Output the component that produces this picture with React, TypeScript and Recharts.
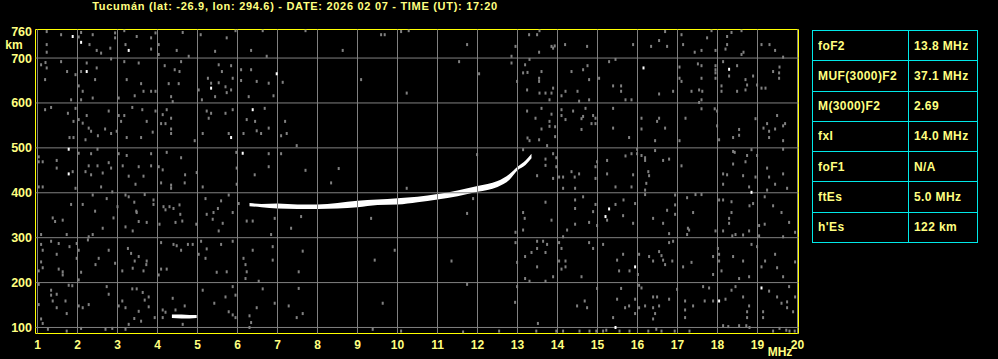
import { ComposedChart, XAxis, YAxis, Scatter, Area, ReferenceLine, ReferenceArea } from 'recharts';

const title = 'Tucumán (lat: -26.9, lon: 294.6) - DATE: 2026 02 07 - TIME (UT): 17:20';

const freqTicks = [1, 2, 3, 4, 5, 6, 7, 8, 9, 10, 11, 12, 13, 14, 15, 16, 17, 18, 19, 20];
const heightTicks = [100, 200, 300, 400, 500, 600, 700, 760];
const heightGrid = [100, 200, 300, 400, 500, 600, 700];

// F2 trace (low / high virtual height)
const f2Freq = [6.3, 6.6, 7.0, 7.5, 8.0, 8.5, 9.0, 9.5, 10.0, 10.5, 11.0, 11.5, 12.0, 12.5, 12.8, 13.0, 13.2, 13.35];
const f2Low = [370, 368, 365, 364, 364, 365, 368, 373, 374, 379, 385, 392, 402, 413, 429, 450, 462, 477];
const f2High = [377, 375, 376, 374, 374, 377, 382, 385, 388, 391, 397, 405, 415, 426, 442, 458, 472, 487];

// sporadic E trace
const esFreq = [4.36, 4.6, 4.8, 4.98];
const esLow = [121, 120, 120, 121];
const esHigh = [129, 129, 128, 128];

// bright isolated echoes
const whiteDots = [
  [1.88, 748], [2.09, 735], [3.28, 717], [2.23, 670], [5.34, 633], [6.98, 665], [5.84, 523], [6.38, 585],
  [1.78, 497], [1.78, 442], [6.13, 488], [16.15, 678], [18.29, 675], [18.85, 401], [15.29, 364], [15.2, 347],
  [15.94, 235], [18.04, 159], [19.1, 188], [15.45, 100],
];

// background noise
const greyDots = [
  [1.23, 759], [1.23, 730], [1.23, 713], [1.59, 752], [2.03, 747], [2.09, 757], [2.3, 730], [2.38, 752],
  [2.48, 717], [2.59, 711], [2.94, 756], [2.94, 745], [2.82, 722], [3.17, 761], [3.48, 748], [3.2, 730],
  [3.84, 745], [3.95, 756], [3.84, 720], [4.03, 730], [4.03, 708], [4.48, 717], [4.63, 757], [4.78, 704],
  [5.08, 752], [5.44, 715], [5.73, 745], [5.95, 761], [6.34, 717], [6.63, 761], [6.73, 704], [7.7, 761],
  [8.63, 717], [9.59, 752], [9.68, 752], [10.09, 759], [10.28, 761],
  [1.09, 685], [1.2, 690], [1.23, 678], [1.59, 692], [1.19, 652], [1.74, 670], [1.95, 663], [2.23, 689],
  [2.48, 678], [2.09, 670], [2.03, 638], [2.13, 626], [2.09, 607], [1.84, 607], [2.44, 652], [2.38, 611],
  [2.84, 698], [3.17, 692], [3.23, 652], [3.03, 611], [3.43, 616], [3.59, 643], [3.53, 689], [3.65, 626],
  [3.84, 626], [3.95, 626], [4.18, 683], [4.28, 643], [4.34, 614], [4.38, 603], [4.43, 674], [4.55, 670],
  [4.53, 643], [4.59, 692], [5.03, 629], [5.26, 655], [5.34, 644], [5.53, 685], [5.53, 645], [5.61, 670],
  [5.7, 636], [5.73, 623], [5.84, 683], [5.88, 655], [5.84, 629], [5.44, 614], [6.09, 674], [6.09, 650],
  [6.34, 674], [6.48, 648], [6.28, 614], [6.78, 644], [6.9, 616], [7.13, 646], [9.09, 652], [10.23, 622],
  [5.11, 607],
  [1.19, 585], [1.34, 590], [1.76, 577], [1.9, 559], [1.95, 588], [2.03, 563], [2.23, 572], [2.13, 555],
  [2.34, 537], [2.28, 544], [2.51, 527], [2.2, 518], [1.8, 523], [1.9, 523], [2.69, 542], [2.84, 532],
  [2.78, 582], [2.98, 537], [3.03, 572], [3.17, 572], [3.09, 559], [3.37, 590], [3.23, 523], [3.62, 585],
  [3.73, 559], [3.59, 523], [3.88, 535], [3.95, 582], [4.13, 574], [4.2, 554], [4.34, 566], [4.34, 542],
  [4.23, 585], [4.09, 554], [4.34, 532], [4.93, 516], [5.13, 532], [5.23, 582], [5.34, 577], [5.28, 566],
  [5.7, 577], [5.88, 585], [5.78, 532], [6.15, 532], [6.23, 563], [6.44, 559], [6.48, 538], [6.59, 532],
  [6.78, 544], [6.68, 588], [7.09, 527], [7.19, 559], [7.23, 532], [7.48, 505],
  [1.03, 480], [1.03, 469], [1.13, 469], [1.48, 472], [1.48, 455], [1.88, 447], [2.03, 488], [2.28, 460],
  [2.2, 447], [2.34, 440], [2.5, 460], [2.63, 444], [2.78, 467], [2.84, 455], [2.34, 487], [2.5, 497],
  [3.03, 487], [3.13, 460], [3.28, 437], [3.23, 483], [3.53, 458], [3.65, 437], [3.84, 487], [3.84, 460],
  [4.03, 458], [4.13, 451], [4.23, 490], [4.59, 478], [4.69, 440], [4.98, 445], [5.97, 490], [5.98, 455],
  [6.43, 440], [6.78, 487], [6.78, 458], [7.09, 487], [7.7, 450], [8.53, 454],
  [11.74, 730], [12.95, 726], [13.29, 752], [13.49, 752], [13.55, 761], [13.54, 713], [13.85, 726], [13.89, 722],
  [13.93, 727], [14.19, 730], [14.74, 726], [15.89, 730], [16.34, 726], [16.54, 739], [16.69, 759], [16.74, 726],
  [17.1, 752], [17.14, 730], [17.43, 713], [17.6, 717], [17.74, 745], [17.85, 761], [17.95, 717], [18.2, 720],
  [18.24, 748], [18.35, 757], [18.24, 730], [18.6, 761], [18.6, 708], [18.65, 713], [19.1, 730], [19.3, 730],
  [19.44, 717], [19.64, 702],
  [11.54, 692], [12.04, 665], [12.85, 704], [12.85, 689], [12.99, 648], [13.19, 685], [13.14, 667], [13.25, 668],
  [13.3, 697], [13.24, 629], [13.54, 655], [13.54, 648], [13.6, 670], [13.55, 622], [13.7, 622], [13.85, 622],
  [13.8, 607], [13.89, 633], [14.1, 616], [14.2, 626], [14.35, 670], [14.5, 626], [14.54, 604], [14.64, 674],
  [14.75, 683], [14.79, 652], [14.79, 607], [15.04, 655], [15.29, 692], [15.39, 638], [15.45, 697], [15.59, 638],
  [15.59, 626], [15.7, 607], [15.85, 607], [16.54, 620], [16.89, 626], [17.05, 680], [17.05, 655], [17.1, 648],
  [17.35, 626], [17.51, 687], [17.6, 683], [17.54, 629], [17.62, 626], [17.6, 655], [17.6, 607], [17.95, 683],
  [17.95, 674], [17.95, 667], [17.95, 655], [18.1, 638], [18.1, 626], [18.14, 692], [18.29, 660], [18.49, 683],
  [18.49, 626], [18.7, 652], [18.74, 640], [18.7, 629], [18.89, 660], [18.99, 640], [19.1, 633], [19.2, 633],
  [19.39, 670], [19.54, 667], [19.54, 655], [19.55, 680],
  [13.24, 582], [13.45, 566], [13.6, 588], [13.6, 542], [13.8, 559], [13.85, 575], [13.8, 548], [13.94, 547],
  [13.94, 525], [13.25, 522], [13.3, 516], [13.54, 518], [13.74, 505], [14.1, 585], [14.1, 572], [14.2, 563],
  [14.39, 582], [14.6, 565], [14.64, 570], [14.6, 541], [14.7, 588], [14.85, 554], [14.89, 572], [14.95, 566],
  [14.95, 554], [15.39, 588], [15.39, 544], [15.79, 523], [16.1, 566], [16.1, 542], [16.49, 559], [16.54, 566],
  [16.69, 544], [16.44, 516], [17.05, 516], [17.2, 566], [17.54, 601], [17.6, 587], [17.93, 587], [17.99, 582],
  [17.99, 549], [18.04, 518], [18.39, 523], [18.54, 541], [18.54, 528], [18.95, 565], [19.15, 544], [19.24, 554],
  [19.29, 537], [19.29, 523], [19.44, 542], [19.49, 572], [19.64, 549], [19.69, 554], [19.64, 516],
  [11.99, 485], [13.14, 496], [13.89, 487], [13.97, 478], [13.97, 458], [13.7, 475], [13.7, 461], [13.49, 438],
  [13.89, 432], [14.04, 435], [14.14, 435], [14.35, 447], [14.54, 442], [14.43, 435], [14.95, 458], [14.99, 469],
  [15.24, 472], [15.24, 442], [14.95, 432], [15.7, 482], [15.85, 487], [15.89, 440], [15.99, 497], [15.99, 487],
  [16.1, 483], [16.19, 478], [16.19, 472], [16.27, 447], [16.29, 438], [16.44, 494], [16.64, 472], [16.79, 475],
  [17.1, 460], [18.39, 492], [18.43, 490], [18.39, 464], [18.74, 483], [18.7, 469], [18.85, 496], [18.99, 483],
  [19.24, 455], [19.29, 435], [19.64, 497], [19.64, 442], [18.95, 435], [18.14, 442], [18.24, 440], [18.64, 438],
  [1.03, 413], [1.13, 413], [1.95, 410], [2.59, 413], [2.87, 402], [3.45, 419], [4.09, 422], [4.34, 417],
  [4.34, 410], [4.68, 422], [5.13, 413], [5.98, 419], [8.34, 422], [10.23, 410],
  [2.38, 395], [2.73, 387], [2.13, 374], [1.84, 374], [2.44, 359], [1.38, 344], [1.44, 336], [1.63, 339],
  [1.09, 307], [1.73, 307], [2.28, 302], [2.38, 307], [2.63, 321], [2.9, 344], [3.0, 369], [3.2, 395],
  [3.28, 391], [3.42, 379], [3.48, 356], [3.47, 359], [3.2, 324], [3.38, 315], [3.53, 336], [3.68, 396],
  [3.73, 334], [3.9, 384], [3.9, 374], [4.05, 330], [4.15, 369], [4.2, 362], [4.3, 369], [4.4, 365],
  [4.55, 373], [4.57, 352], [4.45, 334], [4.62, 337], [4.97, 330], [5.2, 387], [5.23, 352], [5.4, 356],
  [5.51, 365], [5.59, 382], [5.38, 341], [5.53, 315], [5.63, 332], [5.78, 395], [5.88, 356], [6.03, 376],
  [6.23, 337], [6.38, 337], [6.84, 307], [6.93, 343], [7.34, 321], [7.59, 347], [9.34, 343],
  [1.09, 285], [1.34, 292], [1.13, 272], [1.09, 246], [1.13, 233], [1.03, 226], [1.48, 263], [1.53, 287],
  [1.53, 230], [1.63, 224], [1.63, 217], [1.8, 280], [1.98, 287], [1.98, 254], [2.03, 272], [2.09, 223],
  [2.03, 206], [2.26, 295], [2.45, 240], [2.53, 254], [2.78, 272], [2.94, 243], [3.12, 226], [3.26, 276],
  [3.34, 265], [3.38, 232], [3.53, 258], [3.43, 248], [3.65, 226], [3.73, 248], [3.72, 240], [4.09, 289],
  [4.09, 230], [4.23, 230], [4.03, 217], [4.4, 285], [4.48, 282], [4.59, 272], [4.76, 285], [4.88, 285],
  [5.03, 263], [5.09, 292], [5.23, 275], [5.2, 254], [5.48, 223], [5.59, 285], [5.73, 224], [5.88, 292],
  [6.15, 254], [6.2, 240], [6.23, 224], [6.2, 209], [6.38, 272], [6.53, 203], [6.88, 280], [6.88, 250],
  [7.53, 224], [7.63, 270], [9.43, 250], [9.93, 272],
  [1.03, 196], [1.34, 183], [1.34, 172], [1.38, 159], [1.48, 174], [1.7, 159], [1.78, 194], [1.87, 193],
  [1.03, 151], [1.09, 119], [1.13, 109], [1.26, 96], [1.48, 144], [1.73, 131], [1.73, 92], [2.03, 148],
  [2.13, 144], [2.28, 151], [2.09, 98], [2.73, 191], [2.78, 174], [3.03, 148], [3.12, 159], [3.2, 144],
  [3.37, 186], [3.48, 186], [3.63, 178], [3.68, 161], [3.78, 168], [3.53, 136], [3.59, 114], [3.42, 120],
  [3.28, 107], [3.2, 96], [2.87, 98], [2.7, 96], [3.78, 146], [3.93, 122], [4.13, 139], [4.2, 134],
  [4.13, 122], [4.38, 165], [4.45, 139], [4.68, 148], [4.63, 107], [5.13, 183], [5.42, 154], [5.7, 168],
  [5.88, 191], [5.78, 135], [5.88, 128], [5.95, 122], [5.95, 172], [6.3, 126], [6.34, 111], [6.3, 100],
  [6.48, 144], [6.63, 186], [6.93, 154], [7.28, 148], [7.48, 122], [7.63, 131], [7.53, 187], [9.63, 154],
  [9.38, 96], [10.09, 92],
  [14.14, 410], [14.44, 410], [15.45, 413], [15.85, 413], [16.22, 421], [16.19, 406], [18.14, 419], [18.79, 413],
  [19.24, 406], [19.44, 419], [19.74, 410],
  [11.74, 354], [11.89, 387], [13.14, 356], [13.18, 343], [13.7, 379], [13.85, 339], [13.14, 317], [12.95, 312],
  [14.14, 302], [14.24, 317], [14.44, 384], [14.64, 391], [14.44, 365], [14.44, 330], [14.79, 334], [14.89, 358],
  [14.95, 374], [14.99, 327], [15.24, 339], [15.45, 374], [15.64, 349], [15.65, 384], [15.89, 332], [15.94, 376],
  [16.19, 396], [16.39, 343], [16.64, 332], [16.74, 361], [16.79, 309], [16.94, 395], [16.94, 373], [16.94, 352],
  [17.24, 389], [17.26, 321], [17.29, 317], [17.24, 307], [17.39, 356], [17.45, 396], [17.6, 396], [18.04, 384],
  [18.14, 384], [18.35, 380], [18.35, 356], [18.29, 343], [18.29, 332], [17.95, 315], [18.14, 315], [18.37, 304],
  [18.45, 307], [18.64, 306], [18.89, 376], [18.8, 371], [19.04, 327], [19.18, 330], [19.18, 391], [19.39, 371],
  [19.6, 356], [19.79, 334], [19.94, 312], [19.04, 304], [19.64, 302], [18.79, 315],
  [11.35, 248], [11.74, 196], [12.95, 289], [12.99, 245], [13.19, 258], [13.35, 267], [13.49, 276], [13.49, 292],
  [13.64, 292], [13.7, 267], [13.74, 285], [13.49, 235], [13.19, 209], [13.3, 203], [13.7, 203], [13.89, 213],
  [14.04, 289], [14.1, 276], [14.04, 248], [14.2, 248], [14.1, 230], [14.2, 235], [14.6, 213], [14.79, 289],
  [14.89, 276], [15.14, 285], [15.49, 250], [15.54, 226], [15.64, 263], [15.8, 226], [16.04, 263], [16.01, 218],
  [16.29, 258], [16.39, 248], [16.54, 269], [16.6, 260], [16.64, 250], [16.69, 240], [16.87, 248], [16.79, 289],
  [16.89, 292], [17.14, 235], [17.35, 245], [17.89, 258], [17.89, 218], [18.01, 276], [18.04, 263], [18.04, 248],
  [18.1, 226], [18.39, 258], [18.54, 209], [18.64, 248], [18.79, 213], [18.85, 285], [18.99, 280], [19.19, 248],
  [19.1, 235], [19.44, 263], [19.49, 233], [19.64, 213], [19.94, 246],
  [12.94, 156], [12.99, 191], [14.49, 148], [14.68, 159], [14.74, 144], [14.99, 187], [15.39, 122], [15.59, 187],
  [15.49, 163], [15.69, 144], [15.79, 148], [15.94, 163], [15.94, 131], [16.04, 194], [16.1, 188], [16.04, 144],
  [16.19, 148], [16.39, 168], [16.49, 168], [16.39, 144], [16.44, 131], [16.39, 119], [16.54, 148], [16.79, 163],
  [16.99, 185], [17.19, 159], [17.19, 139], [17.19, 122], [17.39, 148], [17.64, 191], [17.79, 188], [17.68, 159],
  [17.89, 159], [18.2, 163], [18.35, 183], [18.45, 191], [18.64, 168], [18.79, 148], [18.74, 135], [18.74, 122],
  [19.29, 181], [19.14, 135], [19.14, 122], [19.49, 168], [19.6, 154], [19.74, 157], [19.74, 144], [19.79, 191],
  [19.94, 168], [19.89, 135], [18.14, 104], [18.27, 102], [18.54, 104], [18.72, 104], [18.8, 100], [13.51, 109],
  [14.55, 92], [14.8, 92], [15.14, 92], [15.22, 94], [15.55, 92], [15.8, 92], [16.27, 92], [16.47, 96],
  [16.6, 92], [16.93, 92], [17.3, 92], [19.39, 92], [19.55, 98], [19.72, 94], [19.8, 92], [19.93, 92],
  [12.54, 92], [11.64, 90], [13.47, 92], [13.97, 92], [14.14, 92], [14.97, 92],
];

const paramNames = ['foF2', 'MUF(3000)F2', 'M(3000)F2', 'fxI', 'foF1', 'ftEs', "h'Es"];
const paramValues = ['13.8 MHz', '37.1 MHz', '2.69', '14.0 MHz', 'N/A', '5.0 MHz', '122 km'];

const f2Data = f2Freq.map((f, i) => ({ f, band: [f2Low[i], f2High[i]] }));
const esData = esFreq.map((f, i) => ({ f, band: [esLow[i], esHigh[i]] }));
const greyData = greyDots.map(([f, h]) => ({ f, h }));
const whiteData = whiteDots.map(([f, h]) => ({ f, h }));

const LABEL = '#ffff80';
const FRAME = '#ffff00';
const GRID = '#808080';
const CYAN = '#00e8e8';
const FONT = '"Liberation Sans", Arial, sans-serif';

const FreqTick = ({ x, payload }: any) => (
  <g>
    <text x={x} y={349} textAnchor="middle" fill={LABEL} fontSize={12} fontWeight="bold" fontFamily={FONT}>
      {payload.value}
    </text>
    {payload.value === 20 && (
      <text x={780} y={356} textAnchor="middle" fill={LABEL} fontSize={12} fontWeight="bold" fontFamily={FONT}>
        MHz
      </text>
    )}
  </g>
);

const HeightTick = ({ y, payload }: any) => (
  <g>
    <text x={32} y={y + 4.5} textAnchor="end" fill={LABEL} fontSize={12.5} fontWeight="bold" fontFamily={FONT}>
      {payload.value}
    </text>
    {payload.value === 760 && (
      <text x={14} y={49} textAnchor="middle" fill={LABEL} fontSize={12} fontWeight="bold" fontFamily={FONT}>
        km
      </text>
    )}
  </g>
);

const greyShape = ({ cx, cy }: any) => <rect x={cx - 1} y={cy - 1.5} width={2} height={3} fill="#808080" />;
const whiteShape = ({ cx, cy }: any) => <rect x={cx - 1} y={cy - 1.5} width={2} height={3} fill="#ffffff" />;

const cellStyle = {
  border: `1px solid ${CYAN}`,
  padding: '0 0 0 5px',
  fontFamily: FONT,
  fontSize: 12,
  fontWeight: 'bold' as const,
  letterSpacing: '0.4px',
  color: LABEL,
  whiteSpace: 'nowrap' as const,
};

export default function App() {
  return (
    <div style={{ position: 'fixed', left: 0, top: 0, width: 998, height: 359, background: '#000', overflow: 'hidden' }}>
      <div
        style={{
          position: 'absolute', left: 0, top: -1, width: 590, textAlign: 'center',
          color: LABEL, fontFamily: FONT, fontSize: 11, fontWeight: 'bold', lineHeight: '14px',
          letterSpacing: '0.7px', whiteSpace: 'nowrap',
        }}
      >
        {title}
      </div>
      <ComposedChart width={998} height={359} margin={{ top: 29.5, right: 199.5, bottom: 0, left: 0 }}>
        <XAxis
          type="number" dataKey="f" domain={[0.95, 20.025]} ticks={freqTicks} interval={0}
          axisLine={false} tickLine={false} height={25.5} tick={<FreqTick />} allowDataOverflow
        />
        <YAxis
          type="number" dataKey="h" domain={[86.6, 763.6]} ticks={heightTicks} interval={0}
          axisLine={false} tickLine={false} width={35.5} tick={<HeightTick />} allowDataOverflow
        />
        {freqTicks.map((f) => (
          <ReferenceLine key={'vx' + f} x={f} stroke={GRID} strokeWidth={1} />
        ))}
        {heightGrid.map((h) => (
          <ReferenceLine key={'hy' + h} y={h} stroke={GRID} strokeWidth={1} />
        ))}
        <Scatter data={greyData} shape={greyShape} isAnimationActive={false} />
        <Scatter data={whiteData} shape={whiteShape} isAnimationActive={false} />
        <Area data={f2Data} dataKey="band" type="monotone" fill="#ffffff" fillOpacity={1} stroke="none" isAnimationActive={false} />
        <Area data={esData} dataKey="band" type="monotone" fill="#ffffff" fillOpacity={1} stroke="none" isAnimationActive={false} />
        <ReferenceArea x1={0.95} x2={20.025} y1={86.6} y2={763.6} fill="none" stroke={FRAME} strokeWidth={1} />
      </ComposedChart>
      <table
        style={{
          position: 'absolute', left: 812, top: 30, width: 166, height: 213, borderCollapse: 'collapse',
        }}
      >
        <tbody>
          {paramNames.map((n, i) => (
            <tr key={n} style={{ height: 30 }}>
              <td style={{ ...cellStyle, width: 90 }}>{n}</td>
              <td style={cellStyle}>{paramValues[i]}</td>
            </tr>
          ))}
        </tbody>
      </table>
    </div>
  );
}
